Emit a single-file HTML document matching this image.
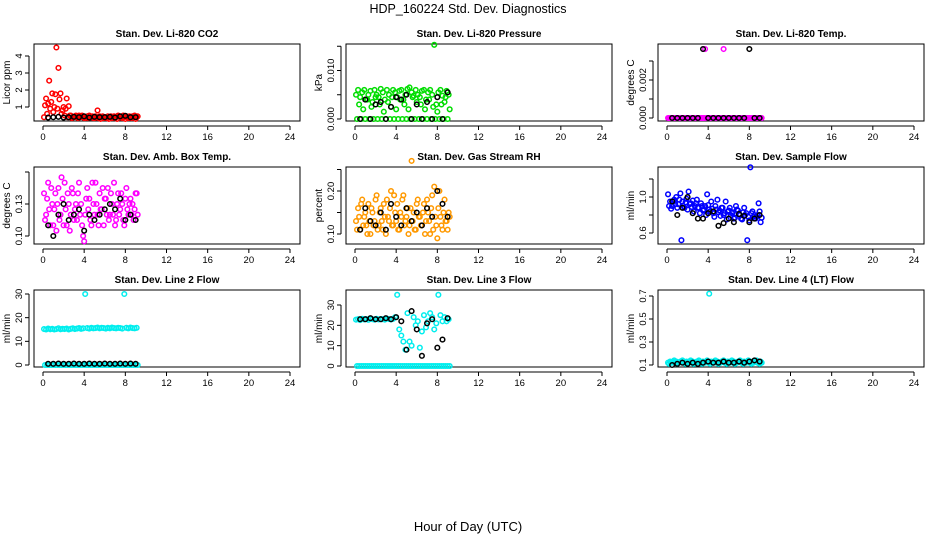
<!DOCTYPE html>
<html><head><meta charset="utf-8"><style>
html,body{margin:0;padding:0;background:#fff}
svg{display:block;font-family:"Liberation Sans",sans-serif}
</style></head><body>
<svg id="c" width="936" height="540" viewBox="0 0 936 540">
<text x="468" y="13" text-anchor="middle" font-size="12.5">HDP_160224  Std. Dev. Diagnostics</text>
<text x="468" y="531" text-anchor="middle" font-size="13">Hour of Day (UTC)</text>
</svg>
<script>
const T=[0.1,0.3,0.5,0.7,0.9,1.1,1.3,1.5,1.7,1.9,2.1,2.3,2.5,2.7,2.9,3.1,3.3,3.5,3.7,3.9,4.1,4.3,4.5,4.7,4.9,5.1,5.3,5.5,5.7,5.9,6.1,6.3,6.5,6.7,6.9,7.1,7.3,7.5,7.7,7.9,8.1,8.3,8.5,8.7,8.9,9.1];
const T2=[0.2,0.4,0.6,0.8,1.0,1.2,1.4,1.6,1.8,2.0,2.2,2.4,2.6,2.8,3.0,3.2,3.4,3.6,3.8,4.0,4.2,4.4,4.6,4.8,5.0,5.2,5.4,5.6,5.8,6.0,6.2,6.4,6.6,6.8,7.0,7.2,7.4,7.6,7.8,8.0,8.2,8.4,8.6,8.8,9.0,9.2];
const B=[0.5,1.0,1.5,2.0,2.5,3.0,3.5,4.0,4.5,5.0,5.5,6.0,6.5,7.0,7.5,8.0,8.5,9.0];
const xTicks=[0,4,8,12,16,20,24];
const co2A=[0.4,1.5,1.2,0.9,1.8,1.0,4.5,3.3,1.8,0.8,0.5,1.5,1.05,0.5,0.4,0.45,0.4,0.5,0.45,0.4,0.35,0.45,0.5,0.4,0.35,0.45,0.8,0.45,0.4,0.35,0.4,0.45,0.4,0.35,0.45,0.4,0.5,0.4,0.35,0.4,0.45,0.35,0.4,0.45,0.5,0.4];
const co2B=[1.1,0.6,2.55,1.3,0.7,1.75,0.9,1.45,0.6,1.0,0.9,0.4,0.5,0.35,0.4,0.5,0.35,0.4,0.5,0.35,0.4,0.35,0.4,0.45,0.35,0.4,0.35,0.3,0.45,0.4,0.35,0.3,0.45,0.4,0.35,0.3,0.45,0.4,0.5,0.3,0.4,0.45,0.35,0.4,0.3,0.45];
const co2K=[0.38,0.4,0.42,0.38,0.4,0.42,0.4,0.45,0.38,0.42,0.4,0.4,0.42,0.38,0.45,0.48,0.4,0.4];
const presA=[0.005,0.006,0.0045,0.0055,0.006,0.004,0.005,0.0058,0.0035,0.006,0.005,0.0045,0.0062,0.0055,0.004,0.006,0.005,0.0025,0.006,0.0055,0.0045,0.0058,0.006,0.004,0.005,0.0062,0.0065,0.0055,0.0048,0.006,0.005,0.0045,0.0058,0.006,0.004,0.0055,0.006,0.005,0.0153,0.003,0.0055,0.006,0.0048,0.0035,0.0058,0.005];
const presB=[0,0.003,0,0.002,0,0.004,0,0.0025,0,0.0045,0,0.003,0,0.0015,0,0.0035,0,0.0045,0,0.002,0,0.004,0,0.003,0,0.002,0,0.0045,0,0.0035,0,0.003,0,0.002,0,0.004,0,0.0025,0,0.0015,0,0.003,0,0.0045,0,0.002];
const presK=[0,0.004,0,0.003,0.0035,0,0.0025,0.0045,0.004,0.005,0,0.003,0,0.0035,0,0.0045,0,0.0055];
const tempA=[0,0,0,0,0,0,0,0,0,0,0,0,0,0,0,0,0,0,0.00363,0,0,0,0,0,0,0,0,0.00363,0,0,0,0,0,0,0,0,0,0,0,0,0,0,0,0,0,0];
const tempB=[0,0,0,0,0,0,0,0,0,0,0,0,0,0,0,0,0,0,0,0,0,0,0,0,0,0,0,0,0,0,0,0,0,0,0,0,0,0,0,0,0,0,0,0,0,0];
const tempK=[0,0,0,0,0,0,0.00363,0,0,0,0,0,0,0,0,0.00363,0,0];
const boxA=[0.14,0.12,0.15,0.11,0.13,0.125,0.105,0.145,0.12,0.135,0.15,0.11,0.13,0.12,0.14,0.125,0.115,0.15,0.13,0.1,0.12,0.145,0.135,0.11,0.13,0.15,0.12,0.14,0.125,0.11,0.135,0.145,0.12,0.13,0.15,0.115,0.14,0.125,0.13,0.11,0.145,0.12,0.135,0.13,0.125,0.14];
const boxB=[0.115,0.135,0.125,0.145,0.11,0.14,0.13,0.115,0.155,0.11,0.125,0.14,0.105,0.145,0.115,0.13,0.14,0.12,0.11,0.095,0.135,0.125,0.115,0.15,0.12,0.13,0.11,0.125,0.145,0.135,0.12,0.115,0.14,0.12,0.11,0.13,0.12,0.14,0.115,0.135,0.125,0.13,0.12,0.115,0.14,0.12];
const boxK=[0.11,0.1,0.12,0.13,0.115,0.12,0.125,0.105,0.12,0.115,0.12,0.125,0.13,0.125,0.135,0.115,0.12,0.115];
const rhA=[0.13,0.16,0.11,0.18,0.14,0.12,0.17,0.1,0.15,0.13,0.19,0.12,0.16,0.11,0.14,0.18,0.13,0.2,0.12,0.15,0.17,0.11,0.14,0.19,0.13,0.16,0.12,0.27,0.15,0.11,0.18,0.14,0.12,0.17,0.13,0.15,0.1,0.19,0.21,0.12,0.16,0.14,0.11,0.18,0.13,0.15];
const rhB=[0.11,0.14,0.17,0.12,0.15,0.1,0.13,0.16,0.12,0.18,0.11,0.15,0.13,0.17,0.1,0.14,0.16,0.12,0.19,0.13,0.11,0.15,0.18,0.12,0.14,0.1,0.16,0.13,0.11,0.17,0.14,0.12,0.15,0.1,0.18,0.13,0.16,0.11,0.14,0.09,0.2,0.12,0.15,0.13,0.11,0.14];
const rhK=[0.11,0.16,0.13,0.12,0.15,0.11,0.17,0.14,0.12,0.16,0.13,0.15,0.12,0.16,0.14,0.2,0.17,0.14];
const flowA=[1.03,0.95,0.9,0.97,1.0,0.92,1.04,0.95,0.88,0.98,1.06,0.93,0.96,0.9,0.97,0.88,0.93,0.85,0.9,1.03,0.86,0.95,0.82,0.9,0.97,0.85,0.88,0.8,0.95,0.84,0.88,0.82,0.76,0.9,0.85,0.8,0.75,0.88,0.82,0.78,1.33,0.84,0.8,0.78,0.93,0.72];
const flowB=[0.9,0.87,0.95,0.92,0.88,0.97,0.52,0.9,0.94,0.86,0.92,0.89,0.84,0.93,0.88,0.82,0.9,0.86,0.8,0.91,0.84,0.87,0.78,0.86,0.83,0.79,0.88,0.82,0.75,0.85,0.8,0.83,0.77,0.86,0.81,0.76,0.83,0.8,0.52,0.74,0.82,0.78,0.76,0.8,0.84,0.77];
const flowK=[0.95,0.8,0.88,1.0,0.82,0.76,0.76,0.82,0.84,0.68,0.71,0.76,0.72,0.81,0.79,0.72,0.76,0.8];
const l2A=[15.2,15.0,15.4,15.1,15.3,15.0,15.2,15.5,15.1,15.3,15.2,15.4,15.0,15.3,15.5,15.2,15.4,15.6,15.3,15.5,30,15.6,15.4,15.7,15.5,15.6,15.8,15.5,15.7,15.6,15.4,15.7,15.5,15.8,15.6,15.5,15.7,15.6,15.4,30,15.7,15.5,15.8,15.6,15.5,15.7];
const l2B=[0,0,0,0,0,0,0,0,0,0,0,0,0,0,0,0,0,0,0,0,0,0,0,0,0,0,0,0,0,0,0,0,0,0,0,0,0,0,0,0,0,0,0,0,0,0];
const l2K=[0.5,0.5,0.6,0.5,0.5,0.6,0.5,0.5,0.6,0.5,0.5,0.6,0.5,0.5,0.6,0.5,0.6,0.5];
const l3A=[22.8,23.0,22.6,23.2,22.9,23.1,22.7,23.3,23.0,22.8,23.2,22.9,23.1,23.0,22.8,23.3,23.1,22.9,23.2,24,35,18,15,12,8,26,12,10,24,20,22,9,17,25,19,22,26,24,18,21,35,25,22,24,22,23];
const l3B=[0,0,0,0,0,0,0,0,0,0,0,0,0,0,0,0,0,0,0,0,0,0,0,0,0,0,0,0,0,0,0,0,0,0,0,0,0,0,0,0,0,0,0,0,0,0];
const l3K=[23,23,23.5,23,23,23.5,23,24,22,8,27,18,5,21,23,9,13,23.5];
const l4A=[0.12,0.13,0.12,0.14,0.13,0.12,0.13,0.14,0.12,0.13,0.12,0.14,0.13,0.12,0.13,0.14,0.12,0.13,0.12,0.14,0.72,0.13,0.12,0.14,0.13,0.12,0.13,0.14,0.12,0.13,0.12,0.14,0.13,0.12,0.13,0.14,0.12,0.13,0.12,0.14,0.13,0.12,0.13,0.14,0.12,0.13];
const l4B=[0.11,0.12,0.13,0.12,0.11,0.12,0.13,0.12,0.11,0.12,0.13,0.12,0.11,0.12,0.13,0.12,0.11,0.12,0.13,0.12,0.11,0.12,0.13,0.12,0.11,0.12,0.13,0.12,0.11,0.12,0.13,0.12,0.11,0.12,0.13,0.12,0.11,0.12,0.13,0.12,0.11,0.12,0.13,0.12,0.11,0.12];
const l4K=[0.1,0.11,0.12,0.11,0.12,0.11,0.12,0.13,0.12,0.12,0.13,0.12,0.12,0.13,0.12,0.13,0.14,0.13];

const NS='http://www.w3.org/2000/svg';
const svg=document.getElementById('c');
function mk(tag,at,parent){const e=document.createElementNS(NS,tag);for(const k in at)e.setAttribute(k,at[k]);(parent||svg).appendChild(e);return e;}

const panels=[
 {key:'co2',title:'Stan. Dev. Li-820 CO2',ylab:'Licor ppm',col:0,row:0,v0:1,y0:107,v1:4,y1:56,ticks:[1,2,3,4],labels:['1','2','3','4'],color:'#ff0000',A:co2A,B:co2B,K:co2K},
 {key:'pressure',title:'Stan. Dev. Li-820 Pressure',ylab:'kPa',col:1,row:0,v0:0,y0:119,v1:0.01,y1:70.5,ticks:[0,0.005,0.01,0.015],labels:['0.000','','0.010',''],color:'#00dd00',A:presA,B:presB,K:presK},
 {key:'temp',title:'Stan. Dev. Li-820 Temp.',ylab:'degrees C',col:2,row:0,v0:0,y0:118,v1:0.002,y1:80,ticks:[0,0.001,0.002,0.003],labels:['0.000','','0.002',''],color:'#ff00ff',A:tempA,B:tempB,K:tempK},
 {key:'box-temp',title:'Stan. Dev. Amb. Box Temp.',ylab:'degrees C',col:0,row:1,v0:0.10,y0:236,v1:0.13,y1:204,ticks:[0.10,0.13,0.16],labels:['0.10','0.13',''],color:'#ff00ff',A:boxA,B:boxB,K:boxK},
 {key:'rh',title:'Stan. Dev. Gas Stream RH',ylab:'percent',col:1,row:1,v0:0.10,y0:234,v1:0.20,y1:191,ticks:[0.10,0.15,0.20,0.25],labels:['0.10','','0.20',''],color:'#ff9900',A:rhA,B:rhB,K:rhK},
 {key:'sample-flow',title:'Stan. Dev. Sample Flow',ylab:'ml/min',col:2,row:1,v0:0.6,y0:233,v1:1.0,y1:197,ticks:[0.6,0.8,1.0,1.2],labels:['0.6','','1.0',''],color:'#0000ff',A:flowA,B:flowB,K:flowK},
 {key:'line2',title:'Stan. Dev. Line 2 Flow',ylab:'ml/min',col:0,row:2,v0:0,y0:365,v1:30,y1:294,ticks:[0,10,20,30],labels:['0','10','20','30'],color:'#00eeee',A:l2A,B:l2B,K:l2K},
 {key:'line3',title:'Stan. Dev. Line 3 Flow',ylab:'ml/min',col:1,row:2,v0:0,y0:366,v1:30,y1:305,ticks:[0,10,20,30],labels:['0','10','20','30'],color:'#00eeee',A:l3A,B:l3B,K:l3K},
 {key:'line4',title:'Stan. Dev. Line 4 (LT) Flow',ylab:'ml/min',col:2,row:2,v0:0.1,y0:365,v1:0.7,y1:296,ticks:[0.1,0.3,0.5,0.7],labels:['0.1','0.3','0.5','0.7'],color:'#00eeee',A:l4A,B:l4B,K:l4K}
];

panels.forEach(p=>{
  const L=34+p.col*312, R=L+266, Tp=44+p.row*123, Bt=Tp+77;
  const xs=h=>L+9+h*(247/24);
  const ys=v=>p.y0+(v-p.v0)*(p.y1-p.y0)/(p.v1-p.v0);
  const g=mk('g',{});
  
  
  const t=mk('text',{x:(L+R)/2,y:Tp-7,'text-anchor':'middle','font-size':'10','font-weight':'bold'},g);
  t.textContent=p.title;
  
  
  const box=mk('rect',{x:L,y:Tp,width:R-L,height:Bt-Tp,fill:'none',stroke:'#000','stroke-width':1},g);
  
  
  const xa=mk('g',{},g);
  
  
  mk('line',{x1:xs(0),x2:xs(24),y1:Bt+5,y2:Bt+5,stroke:'#000'},xa);
  xTicks.forEach(v=>{
    mk('line',{x1:xs(v),x2:xs(v),y1:Bt+5,y2:Bt+9,stroke:'#000'},xa);
    const tl=mk('text',{x:xs(v),y:Bt+19,'text-anchor':'middle','font-size':'9.5'},xa);
    tl.textContent=v;
    
    
  });
  const ya=mk('g',{},g);
  
  
  const tv=p.ticks.filter(v=>ys(v)>=Tp-1&&ys(v)<=Bt+1);
  mk('line',{x1:L-5,x2:L-5,y1:ys(tv[0]),y2:ys(tv[tv.length-1]),stroke:'#000'},ya);
  p.ticks.forEach((v,i)=>{
    const y=ys(v); if(y<Tp-1||y>Bt+1)return;
    mk('line',{x1:L-5,x2:L-9,y1:y,y2:y,stroke:'#000'},ya);
    if(p.labels[i]){
      const tl=mk('text',{x:L-12,y:y,'text-anchor':'middle','font-size':'9.5',transform:`rotate(-90 ${L-12} ${y})`},ya);
      tl.textContent=p.labels[i];
      
      
    }
  });
  const yl=mk('text',{x:L-24,y:(Tp+Bt)/2,'text-anchor':'middle','font-size':'10',transform:`rotate(-90 ${L-24} ${(Tp+Bt)/2})`},g);
  yl.textContent=p.ylab;
  
  
  const drawSeries=(times,vals,color,name)=>{
    const sg=mk('g',{},g);
    
    
    vals.forEach((v,i)=>{
      const c=mk('circle',{cx:xs(times[i]),cy:ys(v),r:2.3,fill:'none',stroke:color,'stroke-width':1.5},sg);
      
      
    });
  };
  drawSeries(T,p.A,p.color,'series-a');
  drawSeries(T2,p.B,p.color,'series-b');
  drawSeries(B,p.K,'#000','series-black');
});
</script>
</body></html>
